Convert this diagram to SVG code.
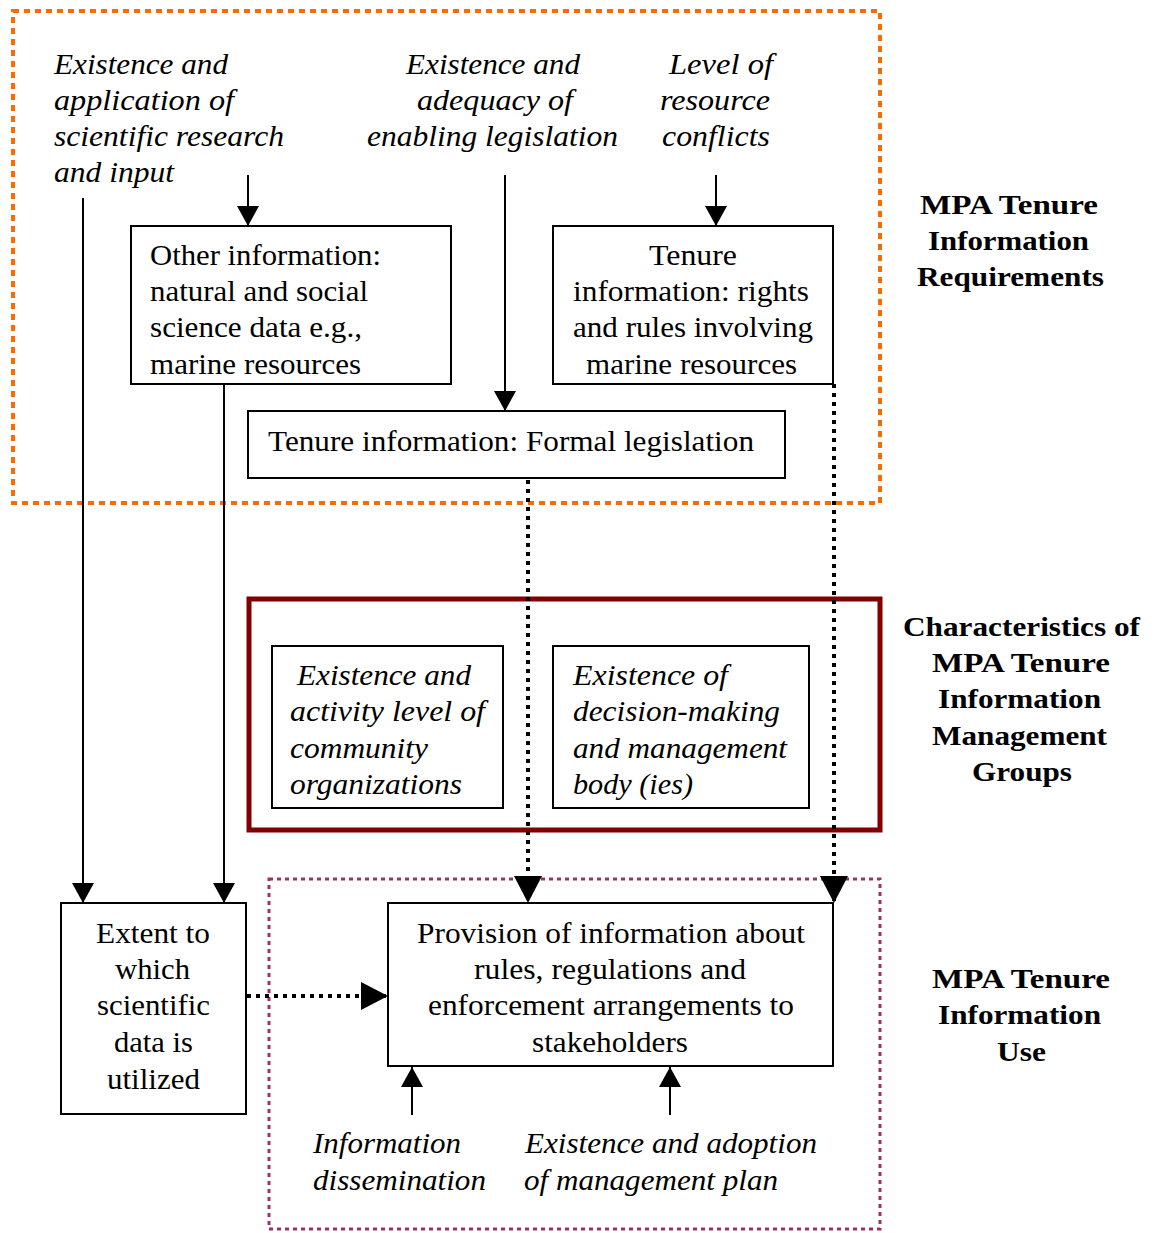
<svg xmlns="http://www.w3.org/2000/svg" width="1155" height="1233" viewBox="0 0 1155 1233">
  <style>
    .t { font-family: "Liberation Serif", "Times New Roman", serif; font-size: 29px; fill: #000; }
    .i { font-family: "Liberation Serif", "Times New Roman", serif; font-size: 29px; font-style: italic; fill: #000; }
    .b { font-family: "Liberation Serif", "Times New Roman", serif; font-size: 28px; font-weight: bold; fill: #000; }
    .box { fill: #fff; stroke: #000; stroke-width: 2; }
    .solid { fill: none; stroke: #000; stroke-width: 2; }
    .dot { fill: none; stroke: #000; stroke-width: 4; stroke-dasharray: 4 5; }
  </style>
  <defs>
    <marker id="ah" viewBox="0 0 20 22" refX="20" refY="11" markerWidth="20" markerHeight="22" markerUnits="userSpaceOnUse" orient="auto">
      <path d="M0,0 L20,11 L0,22 Z" fill="#000"/>
    </marker>
    <marker id="ahd" viewBox="0 0 27 28" refX="27" refY="14" markerWidth="27" markerHeight="28" markerUnits="userSpaceOnUse" orient="auto">
      <path d="M0,0 L27,14 L0,28 Z" fill="#000"/>
    </marker>
  </defs>
  <rect width="1155" height="1233" fill="#fff"/>

  <!-- grouping frames -->
  <g id="frames">
    <rect x="13" y="11" width="867" height="492" fill="none" stroke="#FF6A00" stroke-width="4" stroke-dasharray="6 5"/>
    <rect x="249" y="599" width="631" height="231" fill="none" stroke="#800000" stroke-width="5"/>
    <rect x="269" y="879" width="611" height="350" fill="none" stroke="#993366" stroke-width="3" stroke-dasharray="4 4"/>
  </g>

  <!-- connectors -->
  <g id="connectors">
    <line class="solid" x1="83" y1="198" x2="83" y2="903" marker-end="url(#ah)"/>
    <line class="solid" x1="248" y1="175" x2="248" y2="226" marker-end="url(#ah)"/>
    <line class="solid" x1="505" y1="175" x2="505" y2="411" marker-end="url(#ah)"/>
    <line class="solid" x1="716" y1="175" x2="716" y2="226" marker-end="url(#ah)"/>
    <line class="solid" x1="224" y1="384" x2="224" y2="903" marker-end="url(#ah)"/>
    <line class="dot" x1="528" y1="480" x2="528" y2="903" marker-end="url(#ahd)"/>
    <line class="dot" x1="834" y1="384" x2="834" y2="903" marker-end="url(#ahd)"/>
    <line class="dot" x1="247" y1="996" x2="388" y2="996" marker-end="url(#ahd)"/>
    <line class="solid" x1="412" y1="1115" x2="412" y2="1067" marker-end="url(#ah)"/>
    <line class="solid" x1="670" y1="1115" x2="670" y2="1067" marker-end="url(#ah)"/>
  </g>

  <!-- free-standing factor labels -->
  <g id="label-science">
    <text class="i" x="54" y="74" textLength="174" lengthAdjust="spacingAndGlyphs">Existence and</text>
    <text class="i" x="54" y="110" textLength="180" lengthAdjust="spacingAndGlyphs">application of</text>
    <text class="i" x="54" y="146" textLength="230" lengthAdjust="spacingAndGlyphs">scientific research</text>
    <text class="i" x="54" y="182" textLength="120" lengthAdjust="spacingAndGlyphs">and input</text>
  </g>
  <g id="label-legislation">
    <text class="i" x="406" y="74" textLength="174" lengthAdjust="spacingAndGlyphs">Existence and</text>
    <text class="i" x="417" y="110" textLength="156" lengthAdjust="spacingAndGlyphs">adequacy of</text>
    <text class="i" x="367" y="146" textLength="251" lengthAdjust="spacingAndGlyphs">enabling legislation</text>
  </g>
  <g id="label-conflicts">
    <text class="i" x="669" y="74" textLength="104" lengthAdjust="spacingAndGlyphs">Level of</text>
    <text class="i" x="660" y="110" textLength="110" lengthAdjust="spacingAndGlyphs">resource</text>
    <text class="i" x="662" y="146" textLength="108" lengthAdjust="spacingAndGlyphs">conflicts</text>
  </g>

  <!-- requirement boxes -->
  <g id="node-other-info">
    <rect class="box" x="131" y="226" width="320" height="158"/>
    <text class="t" x="150" y="265" textLength="231" lengthAdjust="spacingAndGlyphs">Other information:</text>
    <text class="t" x="150" y="301" textLength="218" lengthAdjust="spacingAndGlyphs">natural and social</text>
    <text class="t" x="150" y="337" textLength="212" lengthAdjust="spacingAndGlyphs">science data e.g.,</text>
    <text class="t" x="150" y="374" textLength="211" lengthAdjust="spacingAndGlyphs">marine resources</text>
  </g>
  <g id="node-tenure-rights">
    <rect class="box" x="553" y="226" width="280" height="158"/>
    <text class="t" x="649" y="265" textLength="88" lengthAdjust="spacingAndGlyphs">Tenure</text>
    <text class="t" x="573" y="301" textLength="236" lengthAdjust="spacingAndGlyphs">information: rights</text>
    <text class="t" x="573" y="337" textLength="240" lengthAdjust="spacingAndGlyphs">and rules involving</text>
    <text class="t" x="586" y="374" textLength="211" lengthAdjust="spacingAndGlyphs">marine resources</text>
  </g>
  <g id="node-formal-legislation">
    <rect class="box" x="248" y="411" width="537" height="67"/>
    <text class="t" x="268" y="451" textLength="486" lengthAdjust="spacingAndGlyphs">Tenure information: Formal legislation</text>
  </g>

  <!-- management group boxes -->
  <g id="node-community">
    <rect class="box" x="272" y="646" width="231" height="162"/>
    <text class="i" x="297" y="685" textLength="174" lengthAdjust="spacingAndGlyphs">Existence and</text>
    <text class="i" x="290" y="721" textLength="195" lengthAdjust="spacingAndGlyphs">activity level of</text>
    <text class="i" x="290" y="758" textLength="138" lengthAdjust="spacingAndGlyphs">community</text>
    <text class="i" x="290" y="794" textLength="172" lengthAdjust="spacingAndGlyphs">organizations</text>
  </g>
  <g id="node-decision-body">
    <rect class="box" x="553" y="646" width="256" height="162"/>
    <text class="i" x="573" y="685" textLength="155" lengthAdjust="spacingAndGlyphs">Existence of</text>
    <text class="i" x="573" y="721" textLength="207" lengthAdjust="spacingAndGlyphs">decision-making</text>
    <text class="i" x="573" y="758" textLength="214" lengthAdjust="spacingAndGlyphs">and management</text>
    <text class="i" x="573" y="794" textLength="120" lengthAdjust="spacingAndGlyphs">body (ies)</text>
  </g>

  <!-- use boxes -->
  <g id="node-extent">
    <rect class="box" x="61" y="903" width="185" height="211"/>
    <text class="t" x="96" y="943" textLength="114" lengthAdjust="spacingAndGlyphs">Extent to</text>
    <text class="t" x="115" y="979" textLength="75" lengthAdjust="spacingAndGlyphs">which</text>
    <text class="t" x="97" y="1015" textLength="113" lengthAdjust="spacingAndGlyphs">scientific</text>
    <text class="t" x="114" y="1052" textLength="79" lengthAdjust="spacingAndGlyphs">data is</text>
    <text class="t" x="107" y="1089" textLength="93" lengthAdjust="spacingAndGlyphs">utilized</text>
  </g>
  <g id="node-provision">
    <rect class="box" x="388" y="903" width="445" height="163"/>
    <text class="t" x="417" y="943" textLength="388" lengthAdjust="spacingAndGlyphs">Provision of information about</text>
    <text class="t" x="474" y="979" textLength="272" lengthAdjust="spacingAndGlyphs">rules, regulations and</text>
    <text class="t" x="428" y="1015" textLength="366" lengthAdjust="spacingAndGlyphs">enforcement arrangements to</text>
    <text class="t" x="532" y="1052" textLength="156" lengthAdjust="spacingAndGlyphs">stakeholders</text>
  </g>
  <g id="label-dissemination">
    <text class="i" x="313" y="1153" textLength="148" lengthAdjust="spacingAndGlyphs">Information</text>
    <text class="i" x="313" y="1190" textLength="173" lengthAdjust="spacingAndGlyphs">dissemination</text>
  </g>
  <g id="label-plan">
    <text class="i" x="525" y="1153" textLength="292" lengthAdjust="spacingAndGlyphs">Existence and adoption</text>
    <text class="i" x="524" y="1190" textLength="254" lengthAdjust="spacingAndGlyphs">of management plan</text>
  </g>

  <!-- section headings -->
  <g id="heading-requirements">
    <text class="b" x="920" y="214" textLength="178" lengthAdjust="spacingAndGlyphs">MPA Tenure</text>
    <text class="b" x="928" y="250" textLength="161" lengthAdjust="spacingAndGlyphs">Information</text>
    <text class="b" x="917" y="286" textLength="187" lengthAdjust="spacingAndGlyphs">Requirements</text>
  </g>
  <g id="heading-groups">
    <text class="b" x="903" y="636" textLength="237" lengthAdjust="spacingAndGlyphs">Characteristics of</text>
    <text class="b" x="932" y="672" textLength="178" lengthAdjust="spacingAndGlyphs">MPA Tenure</text>
    <text class="b" x="938" y="708" textLength="163" lengthAdjust="spacingAndGlyphs">Information</text>
    <text class="b" x="932" y="745" textLength="175" lengthAdjust="spacingAndGlyphs">Management</text>
    <text class="b" x="972" y="781" textLength="100" lengthAdjust="spacingAndGlyphs">Groups</text>
  </g>
  <g id="heading-use">
    <text class="b" x="932" y="988" textLength="178" lengthAdjust="spacingAndGlyphs">MPA Tenure</text>
    <text class="b" x="938" y="1024" textLength="163" lengthAdjust="spacingAndGlyphs">Information</text>
    <text class="b" x="997" y="1061" textLength="49" lengthAdjust="spacingAndGlyphs">Use</text>
  </g>
</svg>
